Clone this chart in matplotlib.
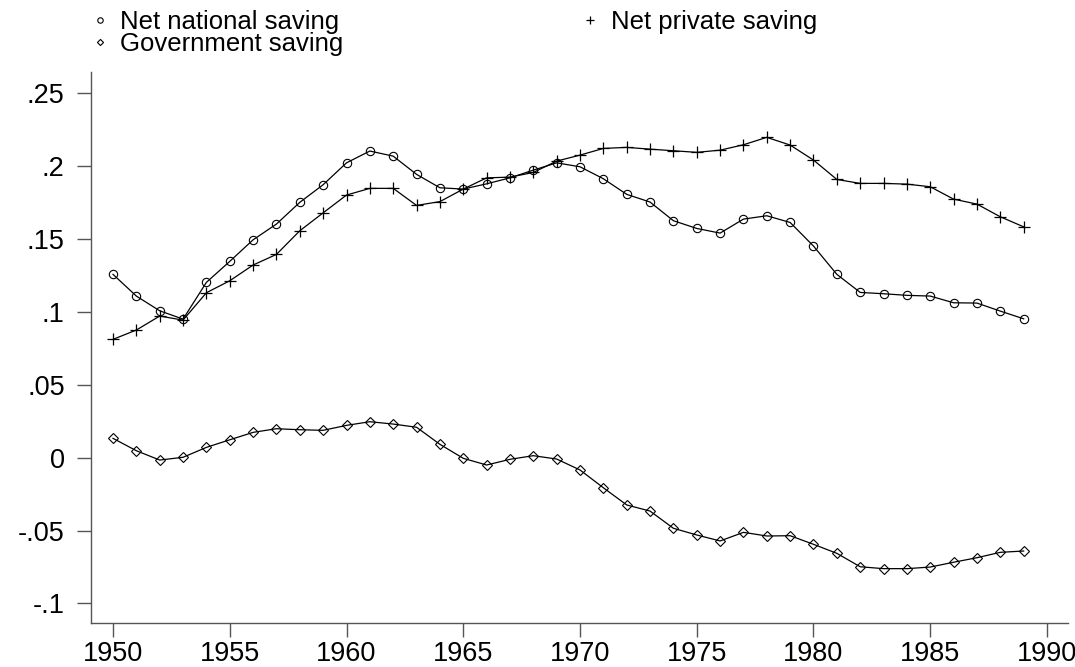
import matplotlib
matplotlib.use('Agg')
import matplotlib.pyplot as plt

plt.rcParams['font.family'] = ['Liberation Sans', 'DejaVu Sans']

years = list(range(1950, 1990))

# net national saving (circles)
national = [0.1258, 0.1109, 0.1008, 0.0951, 0.1203, 0.1347, 0.1495, 0.1603, 0.1752, 0.1873,
            0.2023, 0.2104, 0.2069, 0.1944, 0.1852, 0.1843, 0.1879, 0.1920, 0.1973, 0.2023,
            0.1996, 0.1914, 0.1807, 0.1754, 0.1626, 0.1573, 0.1541, 0.1637, 0.1660, 0.1614,
            0.1452, 0.1258, 0.1134, 0.1125, 0.1114, 0.1109, 0.1063, 0.1061, 0.1006, 0.0953]

# net private saving (plus)
private = [0.0812, 0.0876, 0.0972, 0.0944, 0.1132, 0.1214, 0.1322, 0.1395, 0.1557, 0.1680,
           0.1802, 0.1848, 0.1848, 0.1731, 0.1757, 0.1843, 0.1920, 0.1925, 0.1957, 0.2035,
           0.2076, 0.2122, 0.2129, 0.2117, 0.2106, 0.2095, 0.2110, 0.2147, 0.2198, 0.2145,
           0.2042, 0.1909, 0.1882, 0.1882, 0.1877, 0.1859, 0.1774, 0.1740, 0.1653, 0.1584]

# government saving (diamonds)
government = [0.0133, 0.0048, -0.0016, 0.0003, 0.0071, 0.0123, 0.0174, 0.0199, 0.0192, 0.0188,
              0.0222, 0.0247, 0.0231, 0.0209, 0.0092, -0.0004, -0.0050, -0.0011, 0.0014, -0.0009,
              -0.0084, -0.0206, -0.0324, -0.0366, -0.0484, -0.0530, -0.0571, -0.0512, -0.0537, -0.0535,
              -0.0594, -0.0656, -0.0748, -0.0761, -0.0761, -0.0750, -0.0717, -0.0686, -0.0649, -0.0640]

yticks = [-0.1, -0.05, 0, 0.05, 0.1, 0.15, 0.2, 0.25]
ytick_labels = ['-.1', '-.05', '0', '.05', '.1', '.15', '.2', '.25']
xticks = [1950, 1955, 1960, 1965, 1970, 1975, 1980, 1985, 1990]

fig = plt.figure(figsize=(10.75, 6.67), dpi=100)
ax = fig.add_axes([0.0847, 0.0655, 0.9088, 0.8265])

l1, = ax.plot(years, national, '-', color='black', linewidth=0.9, marker='o',
              markersize=6, markerfacecolor='none', markeredgewidth=0.8, label='Net national saving')
l3, = ax.plot(years, private, '-', color='black', linewidth=0.9, marker='+',
              markersize=8.5, markeredgewidth=0.9, label='Net private saving')
l2, = ax.plot(years, government, '-', color='black', linewidth=0.9, marker='D',
              markersize=4.8, markerfacecolor='none', markeredgewidth=0.8, label='Government saving')

ax.set_xlim(1949.06, 1990.9)
ax.set_ylim(-0.1136, 0.2646)
ax.set_yticks(yticks)
ax.set_yticklabels(ytick_labels)
ax.set_xticks(xticks)

for s in ['top', 'right']:
    ax.spines[s].set_visible(False)
for s in ['left', 'bottom']:
    ax.spines[s].set_color('#555555')
    ax.spines[s].set_linewidth(1.0)

ax.tick_params(axis='y', direction='out', length=10, width=1, color='#555555',
               labelsize=19.5, pad=9)
ax.tick_params(axis='x', direction='out', length=10, width=1, color='#555555',
               labelsize=19.5, pad=3)

# two-column key above the plot, no frame
leg = fig.legend([l1, l2, l3], ['Net national saving', 'Government saving', 'Net private saving'],
                 ncol=2, loc='upper left', bbox_to_anchor=(0.0737, 1.0045),
                 frameon=False, fontsize=18.5, handlelength=0.6, handletextpad=0.5,
                 labelspacing=-0.08, columnspacing=9.3, markerscale=0.65, borderpad=0)
for h in leg.legend_handles:
    h.set_linestyle('none')

plt.savefig('out.png', dpi=100)
